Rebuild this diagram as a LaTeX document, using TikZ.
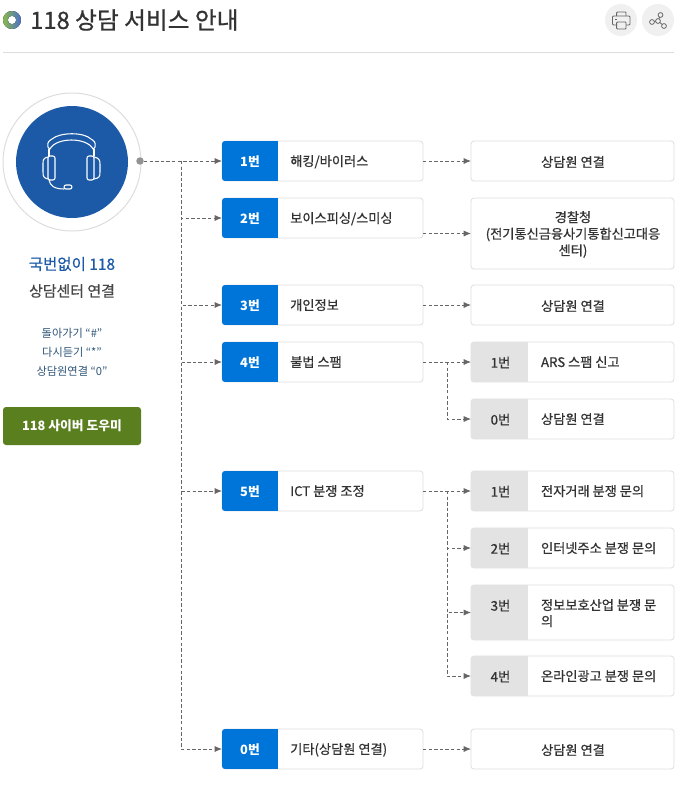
\documentclass[tikz,border=0pt]{standalone}
\usepackage{fontspec}
\setmainfont{Noto Sans CJK KR}
\newfontfamily\medf[FakeBold=0.7]{Noto Sans CJK KR}
\usetikzlibrary{calc,arrows.meta,shapes.geometric}
\definecolor{blueT}{HTML}{0075D9}
\definecolor{grayT}{HTML}{E3E3E3}
\definecolor{lineB}{HTML}{DDDDDD}
\definecolor{navy}{HTML}{1C5AA8}
\definecolor{darkT}{HTML}{333333}
\definecolor{conn}{HTML}{666666}
\definecolor{greenB}{HTML}{5A7F1F}
\definecolor{smallT}{HTML}{2F5578}
\definecolor{iconBg}{HTML}{F0F0F0}
\definecolor{iconFg}{HTML}{666666}
\definecolor{bulletL}{HTML}{8AB84A}
\definecolor{bulletR}{HTML}{4A6FC8}
\tikzset{
  x=0.75pt,y=-0.75pt,
  boxbase/.style={draw=lineB,line width=0.6pt,fill=white,rounded corners=2.25pt,inner sep=0pt,outer sep=0pt},
  numtext/.style={inner sep=0pt,font=\medf\fontsize{10}{12}\selectfont},
  labeltext/.style={inner sep=0pt,anchor=north west,align=left,text=darkT,font=\medf\fontsize{9.9}{12}\selectfont},
  plaintext/.style={inner sep=0pt,align=center,text=darkT,font=\medf\fontsize{9.9}{12.4}\selectfont},
  connline/.style={draw=conn,line width=0.6pt,dash pattern=on 2.6pt off 1.6pt,-{Latex[length=5.5pt,width=4.5pt]}},
  headline/.style={draw=white,line width=0.8pt,line join=round,line cap=round},
  iconline/.style={draw=iconFg,line width=0.7pt}
}
\def\tabw{56}\def\numx{28}\def\labx{68}
% name, x, y, w, h, tabcolor, numstyle, num, label
\newcommand\rowbox[9]{%
  \node[boxbase,minimum width=#4*0.75pt,minimum height=#5*0.75pt,anchor=north west] (#1) at (#2,#3) {};
  \begin{scope}
    \clip[rounded corners=2.25pt] (#1.north west) rectangle (#1.south east);
    \fill[#6] (#1.north west) rectangle ++(\tabw,#5);
  \end{scope}
  \node[numtext,#7] (#1n) at ($(#2,#3)+(\numx,20.5)$) {#8};
  \node[labeltext] (#1l) at ($(#2,#3)+(\labx,13.8)$) {#9};
}
\newcommand\plainbox[6]{% name x y w h text
  \node[boxbase,minimum width=#4*0.75pt,minimum height=#5*0.75pt,anchor=north west] (#1) at (#2,#3) {};
  \node[plaintext] (#1t) at ($(#1.center)+(0.5,1)$) {#6};
}
\tikzset{bl/.style={text=white,font=\fontsize{9.6}{12}\bfseries\selectfont},gr/.style={text=darkT}}
\begin{document}
\begin{tikzpicture}
\useasboundingbox[fill=white] (0,0) rectangle (687,797);
% title
\fill[left color=bulletL,right color=bulletR,even odd rule] (12,20) circle (9) (12,20) circle (4.3);
\node[anchor=west,inner sep=0pt,text=darkT,font=\medf\fontsize{17.8}{20}\selectfont] (title) at (30,20) {118 상담 서비스 안내};
\draw[lineB,line width=0.75pt] (3,52) -- (674,52);
% icons
\node[circle,fill=iconBg,minimum size=24pt,inner sep=0pt] (printbtn) at (621,20) {};
\node[circle,fill=iconBg,minimum size=24pt,inner sep=0pt] (sharebtn) at (658,20) {};
\draw[iconline,rounded corners=0.6pt] (616.7,16) -- (616.7,12) -- (626,12) -- (626,16);
\draw[iconline,rounded corners=0.8pt] (616.7,25) -- (612.5,25) -- (612.5,16) -- (630,16) -- (630,25) -- (626,25);
\draw[iconline,rounded corners=0.6pt] (616.7,22) rectangle (626,29);
\fill[iconFg] (615,18.5) rectangle (617,20);
\draw[iconline,line width=0.6pt] (652,22) -- (658,21) -- (660.5,15) (658,21) -- (664,26);
\foreach \p/\r in {660.5/15,652/22,658/21,664/26}{\draw[iconline,line width=0.6pt,fill=iconBg] (\p,\r) circle (2.4);}
% left circle
\node[circle,draw=lineB,line width=0.75pt,fill=white,minimum size=103.5pt,inner sep=0pt] (ring) at (72,162) {};
\node[circle,fill=navy,minimum size=84pt,inner sep=0pt] (disc) at (72,162) {};
\draw[headline] (48,147) .. controls (47,142) and (49,141) .. (52,139) .. controls (60,132) and (84,132) .. (91,139) .. controls (94,141) and (96,142) .. (95,147) -- (93,149) .. controls (87,137) and (56,137) .. (50,149) -- cycle;
\draw[headline] (49,149) -- (49,156) (94,149) -- (94,156);
\draw[headline,rounded corners=1.6pt] (48,156) rectangle (55,180);
\draw[headline,rounded corners=1.6pt] (87,156) rectangle (94,180);
\draw[headline] (48,157) .. controls (43,158) and (43,160) .. (43,164) -- (43,172) .. controls (43,177) and (44,178) .. (48,179);
\draw[headline] (94,157) .. controls (99,158) and (100,160) .. (100,164) -- (100,172) .. controls (100,177) and (99,178) .. (94,179);
\draw[headline] (49,180) .. controls (50,186) and (55,189) .. (64,189);
\draw[headline,rounded corners=1.5pt] (64,185) rectangle (72,189);
\node[circle,fill=gray!85,minimum size=5.6pt,inner sep=0pt] (dot) at (140,161) {};
% left text
\node[inner sep=0pt,text=navy,font=\medf\fontsize{11.6}{14}\selectfont] (t1) at (72,264) {국번없이 118};
\node[inner sep=0pt,text=darkT!90,font=\medf\fontsize{11.2}{14}\selectfont] (t2) at (72,291) {상담센터 연결};
\node[inner sep=0pt,text=smallT,font=\fontsize{8.4}{14}\selectfont] (t3) at (72,333) {돌아가기 “\#”};
\node[inner sep=0pt,text=smallT,font=\fontsize{8.4}{14}\selectfont] (t4) at (72,352) {다시듣기 “*”};
\node[inner sep=0pt,text=smallT,font=\fontsize{8.4}{14}\selectfont] (t5) at (72,371) {상담원연결 “0”};
\node[fill=greenB,rounded corners=2.25pt,text=white,minimum width=138*0.75pt,minimum height=38*0.75pt,inner sep=0pt,font=\fontsize{9.6}{12}\bfseries\selectfont] (help) at (72,426) {118 사이버 도우미};
% middle
\rowbox{b1}{222}{141}{201}{40}{blueT}{bl}{1번}{해킹/바이러스}
\rowbox{b2}{222}{198}{201}{40}{blueT}{bl}{2번}{보이스피싱/스미싱}
\rowbox{b3}{222}{285}{201}{40}{blueT}{bl}{3번}{개인정보}
\rowbox{b4}{222}{342}{201}{40}{blueT}{bl}{4번}{불법 스팸}
\rowbox{b5}{222}{471}{201}{40}{blueT}{bl}{5번}{ICT 분쟁 조정}
\rowbox{b0}{222}{729}{201}{40}{blueT}{bl}{0번}{기타(상담원 연결)}
% right
\def\tabw{57}\def\numx{29.5}\def\labx{69.8}
\plainbox{r1}{471}{141}{203}{40}{상담원 연결}
\plainbox{r2}{471}{198}{203}{71}{경찰청\\(전기통신금융사기통합신고대응\\센터)}
\plainbox{r3}{471}{285}{203}{40}{상담원 연결}
\rowbox{r41}{471}{342}{203}{40}{grayT}{gr}{1번}{ARS 스팸 신고}
\rowbox{r40}{471}{399}{203}{40}{grayT}{gr}{0번}{상담원 연결}
\rowbox{r51}{471}{471}{203}{40}{grayT}{gr}{1번}{전자거래 분쟁 문의}
\rowbox{r52}{471}{528}{203}{40}{grayT}{gr}{2번}{인터넷주소 분쟁 문의}
\rowbox{r53}{471}{585}{203}{55}{grayT}{gr}{3번}{정보보호산업 분쟁 문\\의}
\rowbox{r54}{471}{656}{203}{40}{grayT}{gr}{4번}{온라인광고 분쟁 문의}
\plainbox{r0}{471}{729}{203}{40}{상담원 연결}
% connectors
\coordinate (trunk) at (181,161);
\coordinate (j4) at (447,362);
\coordinate (j5) at (447,491);
\draw[connline] (dot) -- (b1.west);
\draw[connline] (trunk) |- (b2.west);
\draw[connline] (trunk) |- (b3.west);
\draw[connline] (trunk) |- (b4.west);
\draw[connline] (trunk) |- (b5.west);
\draw[connline] (trunk) |- (b0.west);
\draw[connline] (b1.east) -- (r1.west);
\draw[connline] (b2.east |- r2.west) -- (r2.west);
\draw[connline] (b3.east) -- (r3.west);
\draw[connline] (b4.east) -- (r41.west);
\draw[connline] (j4) |- (r40.west);
\draw[connline] (b5.east) -- (r51.west);
\draw[connline] (j5) |- (r52.west);
\draw[connline] (j5) |- (r53.west);
\draw[connline] (j5) |- (r54.west);
\draw[connline] (b0.east) -- (r0.west);
\end{tikzpicture}
\end{document}
